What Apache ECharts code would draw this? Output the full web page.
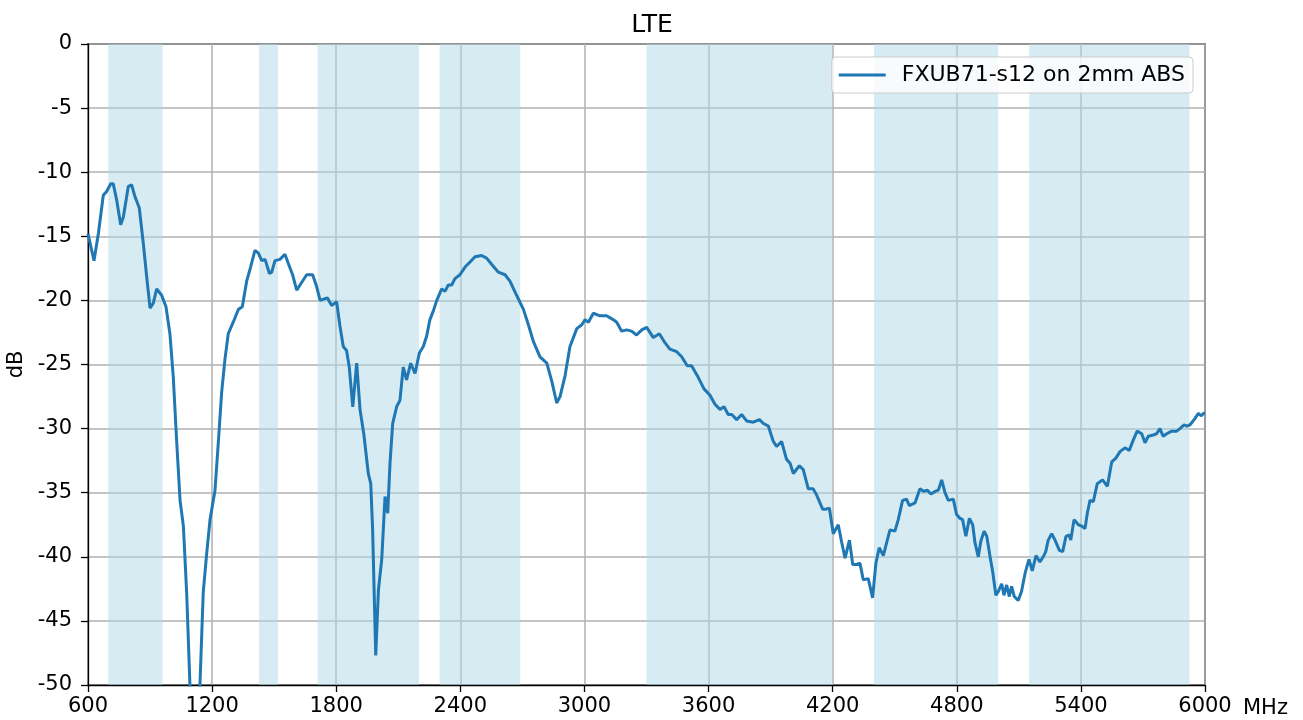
<!DOCTYPE html>
<html>
<head>
<meta charset="utf-8">
<script src="https://cdn.jsdelivr.net/npm/echarts@6/dist/echarts.min.js"></script>
<style>
html,body{margin:0;padding:0;background:#fff;}
#chart{width:1303px;height:720px;}
</style>
</head>
<body>
<div id="chart"></div>
<script>
const title = 'LTE';
const seriesName = 'FXUB71-s12 on 2mm ABS';
const xTicks = [600,1200,1800,2400,3000,3600,4200,4800,5400,6000];
const yTicks = [0,-5,-10,-15,-20,-25,-30,-35,-40,-45,-50];
const bands = [[698,960],[1427,1518],[1710,2200],[2300,2690],[3300,4200],[4400,5000],[5150,5925]];
const freqMHz = [600,629,650,674,690,710,722,739,758,771,795,811,827,848,867,884,900,916,932,956,977,996,1012,1029,1045,1061,1077,1093,1117,1141,1157,1174,1190,1214,1230,1246,1262,1278,1302,1327,1346,1367,1386,1407,1423,1440,1456,1477,1488,1504,1528,1552,1568,1589,1609,1625,1657,1686,1705,1722,1757,1778,1802,1818,1834,1850,1863,1880,1899,1915,1934,1955,1967,1976,1991,2004,2020,2036,2049,2060,2073,2092,2108,2124,2140,2160,2181,2202,2221,2237,2253,2270,2286,2310,2326,2342,2358,2374,2398,2423,2447,2471,2503,2527,2552,2584,2616,2640,2672,2705,2729,2753,2785,2818,2842,2866,2882,2906,2930,2963,2987,3003,3019,3043,3075,3107,3139,3156,3180,3204,3228,3252,3277,3301,3333,3362,3389,3413,3446,3470,3497,3518,3550,3578,3607,3631,3655,3675,3695,3712,3736,3760,3784,3816,3846,3865,3889,3913,3929,3953,3977,3994,4010,4039,4058,4082,4106,4123,4152,4163,4184,4203,4227,4244,4260,4281,4297,4316,4332,4348,4372,4393,4409,4425,4445,4461,4477,4501,4517,4538,4557,4570,4598,4622,4641,4657,4675,4695,4711,4727,4743,4759,4783,4799,4815,4828,4844,4861,4877,4888,4904,4916,4932,4945,4961,4974,4989,5001,5017,5028,5041,5054,5065,5078,5097,5113,5130,5149,5165,5183,5202,5218,5230,5242,5259,5275,5296,5312,5328,5344,5351,5367,5388,5404,5420,5431,5444,5460,5479,5505,5528,5549,5569,5589,5613,5634,5653,5672,5694,5710,5726,5750,5766,5782,5798,5815,5839,5863,5879,5899,5912,5928,5952,5968,5981,5995,6000];
const gainDb = [-14.8,-16.9,-14.8,-11.8,-11.5,-10.9,-10.9,-12.2,-14.1,-13.5,-11.1,-11.0,-11.9,-12.8,-15.5,-18.2,-20.6,-20.2,-19.1,-19.6,-20.5,-22.6,-25.9,-31.1,-35.6,-37.6,-42.8,-50.1,-56.0,-50.1,-42.8,-39.7,-37.1,-34.8,-31.1,-27.2,-24.6,-22.6,-21.7,-20.7,-20.5,-18.5,-17.4,-16.1,-16.3,-16.9,-16.8,-17.9,-17.8,-16.9,-16.8,-16.4,-17.1,-18.0,-19.2,-18.8,-18.0,-18.0,-18.9,-20.0,-19.8,-20.4,-20.1,-22.0,-23.6,-23.9,-25.2,-28.3,-24.9,-28.5,-30.5,-33.5,-34.3,-37.9,-47.7,-42.6,-40.2,-35.3,-36.6,-32.7,-29.6,-28.3,-27.8,-25.2,-26.2,-24.9,-25.7,-24.1,-23.6,-22.8,-21.5,-20.8,-20.0,-19.1,-19.3,-18.8,-18.8,-18.3,-18.0,-17.4,-17.0,-16.6,-16.5,-16.7,-17.2,-17.8,-18.0,-18.5,-19.6,-20.7,-21.9,-23.2,-24.4,-24.9,-26.3,-28.0,-27.5,-25.9,-23.6,-22.2,-21.9,-21.5,-21.7,-21.0,-21.2,-21.2,-21.5,-21.7,-22.4,-22.3,-22.4,-22.7,-22.3,-22.1,-22.9,-22.6,-23.3,-23.8,-24.0,-24.4,-25.1,-25.1,-26.0,-26.9,-27.4,-28.1,-28.5,-28.3,-28.9,-28.9,-29.3,-28.9,-29.4,-29.5,-29.3,-29.6,-29.8,-31.0,-31.4,-31.0,-32.4,-32.7,-33.5,-32.9,-33.2,-34.7,-34.7,-35.2,-36.3,-36.3,-36.2,-38.2,-37.5,-38.9,-40.1,-38.7,-40.6,-40.6,-40.5,-41.8,-41.7,-43.2,-40.5,-39.3,-39.9,-38.9,-37.9,-38.0,-37.1,-35.6,-35.5,-36.0,-35.8,-34.7,-34.9,-34.8,-35.1,-34.9,-34.8,-34.0,-35.0,-35.6,-35.5,-36.7,-37.0,-37.1,-38.4,-37.0,-37.5,-38.9,-40.0,-38.8,-38.0,-38.4,-40.0,-41.2,-43.0,-42.7,-42.1,-43.0,-42.2,-43.1,-42.3,-43.1,-43.4,-42.7,-41.3,-40.2,-41.1,-39.9,-40.4,-40.0,-39.6,-38.7,-38.2,-38.7,-39.5,-39.6,-38.4,-38.3,-38.7,-37.1,-37.5,-37.6,-37.8,-36.6,-35.6,-35.7,-34.3,-34.0,-34.5,-32.6,-32.3,-31.8,-31.5,-31.7,-30.9,-30.2,-30.4,-31.1,-30.6,-30.5,-30.4,-30.0,-30.6,-30.4,-30.2,-30.2,-30.0,-29.7,-29.8,-29.7,-29.2,-28.8,-29.0,-28.8,-28.8];

const FONT = 'DejaVu Sans';
const FS = 21;
const chart = echarts.init(document.getElementById('chart'), null, {renderer:'canvas'});
const data = freqMHz.map((f,i)=>[f, gainDb[i]]);

chart.setOption({
  backgroundColor: '#ffffff',
  animation: false,
  title: {
    text: title, left: 647, top: 8, textAlign: 'center',
    textStyle: {fontFamily: FONT, fontSize: 25, fontWeight: 'normal', color: '#000'}
  },
  legend: {
    right: 110, top: 57,
    data: [{name: seriesName, icon: 'rect'}],
    itemWidth: 47, itemHeight: 3,
    padding: [7, 8, 7, 7],
    borderColor: '#cccccc', borderWidth: 1, borderRadius: 4,
    backgroundColor: 'rgba(255,255,255,0.8)',
    textStyle: {fontFamily: FONT, fontSize: 22, color: '#000', padding: [0,0,0,11]}
  },
  grid: {
    left: 88, right: 98, top: 44, bottom: 35,
    containLabel: false, outerBoundsMode: 'none',
    show: true, borderColor: '#000', borderWidth: 1.3, backgroundColor: 'transparent'
  },
  xAxis: {
    type: 'value', min: 600, max: 6000, interval: 600,
    name: 'MHz', nameLocation: 'end', nameGap: 38,
    nameTextStyle: {fontFamily: FONT, fontSize: FS, color: '#000', verticalAlign: 'top', padding: [13,0,0,0]},
    axisLine: {show: true, onZero: false, lineStyle: {color: '#000', width: 1.3}},
    axisTick: {show: true, length: 7, lineStyle: {color: '#000', width: 1.3}},
    axisLabel: {fontFamily: FONT, fontSize: FS, color: '#000', margin: 11,
      formatter: v => xTicks.includes(v) ? String(v) : ''},
    splitLine: {show: true, lineStyle: {color: '#b0b0b0', width: 1.5}}
  },
  yAxis: {
    type: 'value', min: -50, max: 0, interval: 5,
    name: 'dB', nameLocation: 'middle', nameGap: 61, nameRotate: 90,
    nameTextStyle: {fontFamily: FONT, fontSize: FS, color: '#000'},
    axisLine: {show: true, onZero: false, lineStyle: {color: '#000', width: 1.3}},
    axisTick: {show: true, length: 7, lineStyle: {color: '#000', width: 1.3}},
    axisLabel: {fontFamily: FONT, fontSize: FS, color: '#000', margin: 16,
      formatter: v => yTicks.includes(v) ? String(v) : ''},
    splitLine: {show: true, lineStyle: {color: '#b0b0b0', width: 1.5}}
  },
  series: [{
    name: seriesName, type: 'line', data: data,
    symbol: 'none', smooth: false, clip: true,
    lineStyle: {color: '#1f77b4', width: 3},
    itemStyle: {color: '#1f77b4'},
    z: 3,
    markArea: {
      silent: true,
      itemStyle: {color: 'rgba(173,216,230,0.5)'},
      data: bands.map(b => [{xAxis: b[0]}, {xAxis: b[1]}])
    }
  }]
});
</script>
</body>
</html>
